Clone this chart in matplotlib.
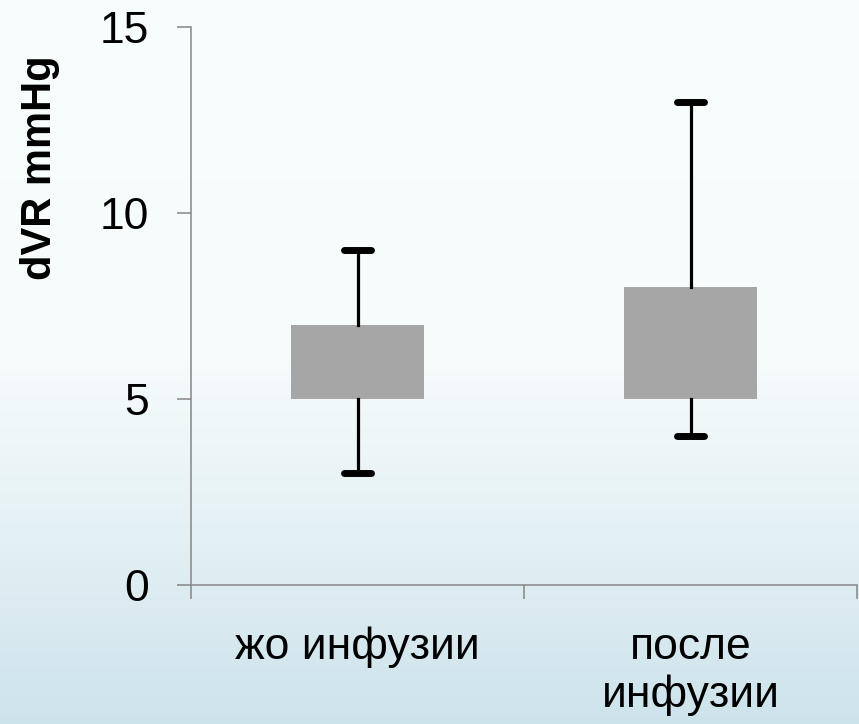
import matplotlib.pyplot as plt
import numpy as np
from matplotlib.colors import LinearSegmentedColormap

plt.rcParams['font.family'] = ['Liberation Sans', 'DejaVu Sans']

# data
groups = ["жо инфузии", "после\nинфузии"]
q1 = [5, 5]
q3 = [7, 8]
whisker_low = [3, 4]
whisker_high = [9, 13]
y_ticks = [0, 5, 10, 15]

fig = plt.figure(figsize=(8.59, 7.24), dpi=100)

# light slide-style background gradient
bg = fig.add_axes([0, 0, 1, 1], zorder=-10)
bg_cmap = LinearSegmentedColormap.from_list(
    "bg", [(0, "#cde3eb"), (0.25, "#e3f0f4"), (0.5, "#f6fbfc"), (1, "#f8fdfe")])
grad = np.linspace(0, 1, 256).reshape(-1, 1)
bg.imshow(grad, aspect="auto", cmap=bg_cmap, origin="lower", extent=[0, 1, 0, 1])
bg.axis("off")

ax = fig.add_axes([0.2224, 0.192, 0.7753, 0.7705])
ax.patch.set_alpha(0)

stats = []
for i in range(len(groups)):
    stats.append({
        "med": q1[i],
        "q1": q1[i],
        "q3": q3[i],
        "whislo": whisker_low[i],
        "whishi": whisker_high[i],
        "fliers": [],
    })

pos = np.arange(len(groups))
ax.bxp(stats, positions=pos, widths=0.4, capwidths=0.08, patch_artist=True,
       showfliers=False,
       boxprops=dict(facecolor="#a6a6a6", edgecolor="none", linewidth=0),
       medianprops=dict(visible=False),
       whiskerprops=dict(color="black", linewidth=2.3),
       capprops=dict(color="black", linewidth=5, solid_capstyle="round"))

ax.set_xlim(-0.5, 1.5)
ax.set_ylim(0, 15)
ax.set_yticks(y_ticks)
ax.set_xticks([-0.5, 0.5, 1.5])
ax.set_xticklabels([])
ax.set_xticks(pos, minor=True)
ax.set_xticklabels(groups, minor=True, fontsize=32)
ax.tick_params(axis="x", which="minor", length=0, pad=30)
ax.tick_params(axis="x", which="major", length=10, width=1.1, color="#868686")
ax.tick_params(axis="y", length=10, width=1.1, color="#868686", labelsize=32, pad=20)

for side in ["top", "right"]:
    ax.spines[side].set_visible(False)
for side in ["left", "bottom"]:
    ax.spines[side].set_color("#868686")
    ax.spines[side].set_linewidth(1.1)

fig.text(0.047, 1 - 168 / 724, "dVR mmHg", rotation=90, fontsize=30,
         fontweight="bold", ha="center", va="center")

fig.savefig("out.png", dpi=100)
